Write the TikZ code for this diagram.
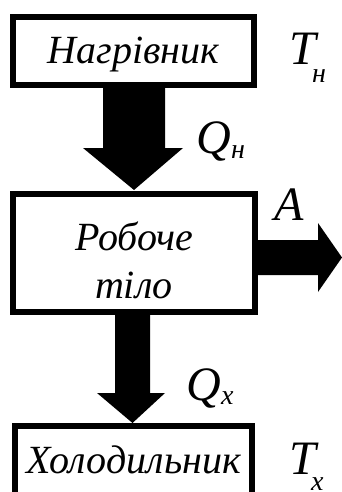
\documentclass[tikz,border=0pt]{standalone}
\usepackage{fontspec}
\newfontfamily\lsi{Liberation Serif Italic}
\begin{document}
\begin{tikzpicture}[x=1pt,y=-1pt]
\tikzset{
  boxline/.style={draw=black,line width=6pt,fill=white},
  blockarrow/.style={fill=black,draw=none},
  boxtext/.style={font=\fontsize{40}{44}\lsi,inner sep=0pt},
  bigsym/.style={font=\fontsize{48}{50}\lsi,inner sep=0pt,anchor=base west},
  subsym/.style={font=\fontsize{28}{30}\lsi,inner sep=0pt,anchor=base west}
}
\useasboundingbox (0,0) rectangle (342,492);
\clip (0,0) rectangle (342,492);
% arrows
\fill[blockarrow] (103,86) -- (165,86) -- (165,148) -- (183,148) -- (134,190) -- (83,148) -- (103,148) -- cycle;
\fill[blockarrow] (256,240) -- (318,240) -- (318,223) -- (342,257.5) -- (318,292) -- (318,275) -- (256,275) -- cycle;
\fill[blockarrow] (115,313) -- (150,313) -- (150,393) -- (165,393) -- (132.5,423) -- (97,393) -- (115,393) -- cycle;
% boxes
\draw[boxline] (13,17) rectangle (254,85);
\node[boxtext,anchor=base] (heater) at (133.5,64) {Нагрівник};
\draw[boxline] (13,194) rectangle (255,312);
\node[boxtext,anchor=base] (body1) at (134,250) {Робоче};
\node[boxtext,anchor=base] (body2) at (134,298) {тіло};
\draw[boxline] (15,426) rectangle (252,510);
\node[boxtext,anchor=base] (cooler) at (133.5,473) {Холодильник};
% labels
\node[bigsym] (Th) at (289,65) {T};
\node[subsym] (Thsub) at (312,83) {н};
\node[bigsym] (Qh) at (196,153) {Q};
\node[subsym] (Qhsub) at (231,158) {н};
\node[bigsym] (A) at (274,220) {A};
\node[bigsym] (Qx) at (186,400) {Q};
\node[subsym] (Qxsub) at (221,404) {x};
\node[bigsym] (Tx) at (289,474) {T};
\node[subsym] (Txsub) at (311,490) {x};
\end{tikzpicture}
\end{document}
